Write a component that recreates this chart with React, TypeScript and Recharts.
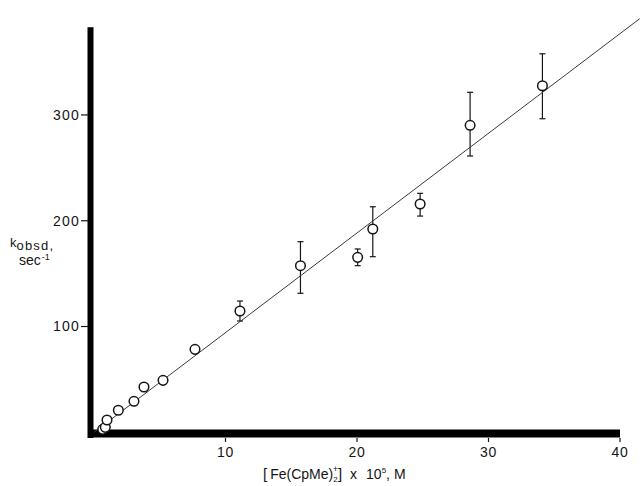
import React from 'react';
import { ScatterChart, Scatter, XAxis, YAxis, ErrorBar, ReferenceLine, Label } from 'recharts';

// concentration [Fe(CpMe)2+] x 10^5 M
const concX = [0.66, 0.86, 0.99, 1.85, 3.04, 3.8, 5.25, 7.68, 11.1, 15.7, 20.05, 21.2, 24.8, 28.6, 34.1];
// k_obsd, sec^-1
const kObsd = [2.8, 4.7, 11.6, 20.8, 29.3, 42.8, 49.1, 78.4, 114.7, 157.5, 165.4, 192.2, 215.8, 290.2, 327.6];
const errMinus = [0, 0, 0, 0, 0, 0, 0, 0, 9.5, 26.1, 7.9, 26.2, 11.4, 29, 31.2];
const errPlus = [0, 0, 0, 0, 0, 0, 0, 0, 9.4, 22.7, 7.9, 21, 10.1, 31.2, 30.2];

// least-squares line end points
const fitX = [0, 41.5];
const fitY = [0, 391];

const xTicks = [10, 20, 30, 40];
const yTicks = [100, 200, 300];

const X_DOMAIN: [number, number] = [-0.456, 41.52];
const Y_DOMAIN: [number, number] = [-5.39, 399.2];

const allPoints = concX.map((x, i) => ({ x, y: kObsd[i], err: [errMinus[i], errPlus[i]] }));
const plainPoints = allPoints.filter((p) => p.err[0] === 0 && p.err[1] === 0);
const errPoints = allPoints.filter((p) => p.err[0] !== 0 || p.err[1] !== 0);
const fitData = fitX.map((x, i) => ({ x, y: fitY[i] }));

const FONT = '"Liberation Sans", Arial, Helvetica, sans-serif';
const INK = '#151515';

const OpenCircle = (props: any) => {
  const { cx, cy } = props;
  if (cx == null || cy == null) return <g />;
  return <circle cx={cx} cy={cy} r={4.8} fill="#fff" stroke={INK} strokeWidth={1.5} />;
};

const NoShape = () => <g />;

const XTitle = () => (
  <text x={263} y={479} fontSize={14} fontFamily={FONT} fill={INK}>
    <tspan fontSize={15}>[</tspan>
    <tspan dx={3}>Fe(CpMe)</tspan>
    <tspan fontSize={8} dy={3}>2</tspan>
    <tspan fontSize={9} dx={-5} dy={-10}>+</tspan>
    <tspan dy={7} fontSize={15}>]</tspan>
    <tspan dx={8}>x</tspan>
    <tspan dx={9}>10</tspan>
    <tspan fontSize={8} dy={-6}>5</tspan>
    <tspan dy={6}>, M</tspan>
  </text>
);

const YTitle = () => (
  <g fontFamily={FONT} fill={INK}>
    <text x={10} y={246.5} fontSize={13}>
      k
      <tspan dy={3} fontSize={13} letterSpacing={1.2}>obsd,</tspan>
    </text>
    <text x={19} y={265} fontSize={14}>
      sec
      <tspan fontSize={9} dy={-5} dx={1}>-1</tspan>
    </text>
  </g>
);

export default function App() {
  return (
    <div style={{ position: 'absolute', left: 0, top: 0, width: 640, height: 486, background: '#fff' }}>
      <ScatterChart width={640} height={486} margin={{ top: 10, right: 0, left: 28, bottom: 18 }}>
        <XAxis
          type="number"
          dataKey="x"
          domain={X_DOMAIN}
          ticks={xTicks}
          allowDataOverflow
          axisLine={false}
          tickSize={4}
          tickMargin={5}
          height={30}
          tickLine={{ stroke: INK, strokeWidth: 1.2 }}
          tick={{ fill: INK, fontSize: 14, fontFamily: FONT, letterSpacing: 0.8 }}
        >
          <Label content={<XTitle />} />
        </XAxis>
        <YAxis
          type="number"
          dataKey="y"
          domain={Y_DOMAIN}
          ticks={yTicks}
          allowDataOverflow
          axisLine={false}
          width={60}
          tickSize={7}
          tickMargin={1}
          tickLine={{ stroke: INK, strokeWidth: 1.2 }}
          tick={{ fill: INK, fontSize: 14, fontFamily: FONT, letterSpacing: 1.2 }}
        >
          <Label content={<YTitle />} />
        </YAxis>
        <ReferenceLine
          segment={[{ x: -0.266, y: -5.3 }, { x: -0.266, y: 383 }]}
          stroke="#000"
          strokeWidth={6}
        />
        <ReferenceLine
          segment={[{ x: -0.45, y: -1.13 }, { x: 40, y: -1.13 }]}
          stroke="#000"
          strokeWidth={8}
        />
        <Scatter
          data={fitData}
          line={{ stroke: '#3a3a3a', strokeWidth: 1 }}
          shape={<NoShape />}
          isAnimationActive={false}
        />
        <Scatter data={errPoints} shape={<OpenCircle />} isAnimationActive={false}>
          <ErrorBar dataKey="err" direction="y" width={3} stroke={INK} strokeWidth={1.2} />
        </Scatter>
        <Scatter data={plainPoints} shape={<OpenCircle />} isAnimationActive={false} />
      </ScatterChart>
    </div>
  );
}
